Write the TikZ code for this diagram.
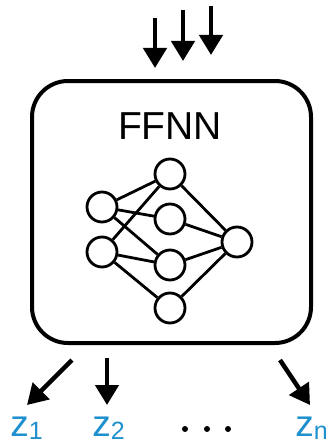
\documentclass[tikz,border=0pt]{standalone}
\usepackage{fontspec}
\setmainfont{Liberation Sans}
\usetikzlibrary{arrows.meta}
\definecolor{zblue}{RGB}{30,144,205}

\begin{document}
\begin{tikzpicture}[x=1pt,y=-1pt,thick,
	block/.style ={circle, draw, line width=2.8pt, minimum size=30pt, inner sep=0pt},
	arr/.style ={line width=4.5pt, -{Triangle[length=20pt,width=23pt]}},
	lbl/.style ={text=zblue, anchor=base west, inner sep=0pt, font=\fontsize{37}{37}\selectfont}]
		\useasboundingbox (0,0) rectangle (329,444);
		% outer box and title
		\node[draw, line width=4pt, rounded corners=36pt, minimum width=279pt, minimum height=262pt] (box) at (171.5,212) {};
		\node[inner sep=0pt, font=\fontsize{39}{39}\selectfont] (title) at (170,126) {FFNN};
		% network
		\node[block] (x1) at (102,207) {};
		\node[block] (x2) at (102,252) {};
		\node[block] (h1) at (170,174) {};
		\node[block] (h2) at (170,219) {};
		\node[block] (h3) at (170,265) {};
		\node[block] (h4) at (170,308) {};
		\node[block] (y) at (237,242) {};
		\draw[line width=2.8pt] (x1)--(h1);
		\draw[line width=2.8pt] (x1)--(h2);
		\draw[line width=2.8pt] (x1)--(h3);
		\draw[line width=2.8pt] (x2)--(h1);
		\draw[line width=2.8pt] (x2)--(h3);
		\draw[line width=2.8pt] (x2)--(h4);
		\draw[line width=2.8pt] (h1)--(y);
		\draw[line width=2.8pt] (h2)--(y);
		\draw[line width=2.8pt] (h3)--(y);
		\draw[line width=2.8pt] (h4)--(y);
		% inputs
		\coordinate (a1) at (155,18);  \coordinate (b1) at (155,68);
		\coordinate (a2) at (183,10);  \coordinate (b2) at (183,61);
		\coordinate (a3) at (211,6);   \coordinate (b3) at (211,55);
		\draw[arr] (a1)--(b1);
		\draw[arr] (a2)--(b2);
		\draw[arr] (a3)--(b3);
		% outputs
		\coordinate (c1) at (72,360);  \coordinate (e1) at (27,405);
		\coordinate (c2) at (107,358); \coordinate (e2) at (107,405);
		\coordinate (c3) at (280,360); \coordinate (e3) at (310,405);
		\draw[arr] (c1)--(e1);
		\draw[arr] (c2)--(e2);
		\draw[arr] (c3)--(e3);
		\node[lbl] (z1) at (10,436) {z\raisebox{-3pt}{\fontsize{25}{25}\selectfont 1}};
		\node[lbl] (z2) at (92,436) {z\raisebox{-3pt}{\fontsize{25}{25}\selectfont 2}};
		\node[lbl] (zn) at (295,436) {z\raisebox{-3pt}{\fontsize{25}{25}\selectfont n}};
		\node[circle, fill, inner sep=0pt, minimum size=6pt] (d1) at (185,429) {};
		\node[circle, fill, inner sep=0pt, minimum size=6pt] (d2) at (207,429) {};
		\node[circle, fill, inner sep=0pt, minimum size=6pt] (d3) at (228,429) {};
	\end{tikzpicture}
\end{document}
